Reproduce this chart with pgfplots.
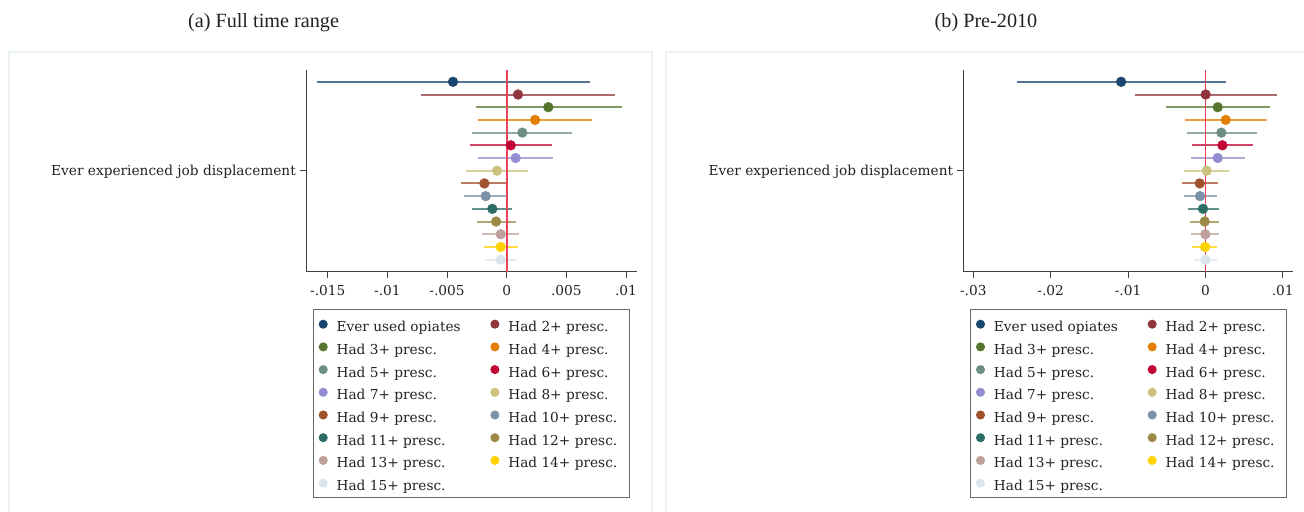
\documentclass[border=0pt]{standalone}
\usepackage{pgfplots}
\pgfplotsset{compat=1.18}
\usepackage{fontspec}
\setmainfont{DejaVu Serif}
\newfontfamily\titlefont{Liberation Serif}
\newcommand\chartfont{\fontsize{13.7bp}{16bp}\selectfont}

% Stata s2color palette
\definecolor{c1}{HTML}{1A476F}
\definecolor{c2}{HTML}{90353B}
\definecolor{c3}{HTML}{55752F}
\definecolor{c4}{HTML}{E37E00}
\definecolor{c5}{HTML}{6E8E84}
\definecolor{c6}{HTML}{C10534}
\definecolor{c7}{HTML}{938DD2}
\definecolor{c8}{HTML}{CAC27E}
\definecolor{c9}{HTML}{A0522D}
\definecolor{c10}{HTML}{7B92A8}
\definecolor{c11}{HTML}{2D6D66}
\definecolor{c12}{HTML}{9C8847}
\definecolor{c13}{HTML}{BFA19C}
\definecolor{c14}{HTML}{FFD200}
\definecolor{c15}{HTML}{D9E6EB}
\definecolor{zeroline}{HTML}{E8425A}
\definecolor{panelframe}{HTML}{EAF2F3}
\definecolor{txt}{HTML}{222222}

% confidence interval: colour, row, lower, upper
\newcommand{\ci}[4]{\addplot[forget plot, draw=#1, draw opacity=0.75, line width=2bp] coordinates {(#3,#2) (#4,#2)};}
% point estimate: colour, row, estimate, legend text
\newcommand{\est}[4]{\addplot[only marks, mark=*, mark size=4.9bp, color=#1] coordinates {(#3,#2)};
  \addlegendentry{\makebox[113bp][l]{#4}}}

\pgfplotsset{
  coefaxis/.style={
    anchor=south west, scale only axis,
    height=201.7bp,
    ymin=0.05, ymax=15.93,
    axis x line*=bottom, axis y line*=left,
    axis line style={black!75, line width=1bp},
    tick align=outside, major tick length=6bp,
    tick style={black!75, line width=1bp},
    minor tick num=0,
    scaled x ticks=false,
    ytick={8}, yticklabels={Ever experienced job displacement},
    tick label style={font=\chartfont, text=txt},
    yticklabel style={inner sep=4bp, yshift=-1.5bp},
    xticklabel style={inner sep=3bp, yshift=-4bp},
    clip=false,
    legend columns=2,
    legend cell align=left,
    legend image code/.code={\draw[##1, mark size=4bp] plot coordinates {(4bp,0bp)};},
    legend style={
      at={(0.0203,-0.1864)}, anchor=north west,
      draw=black!60, line width=1bp,
      font=\chartfont, text=txt,
      inner xsep=6bp, inner ysep=3.9bp,
      column sep=7.4bp,
      /tikz/every even column/.append style={column sep=39.3bp},
      row sep=1.7bp,
      nodes={inner xsep=2bp, inner ysep=0bp, text height=18bp, text depth=3bp},
    },
  },
}

\begin{document}
\begin{tikzpicture}
\path[use as bounding box] (0,0) rectangle (1304bp,512bp);
\clip (0,0) rectangle (1304bp,512bp);

% panel frames
\draw[panelframe, line width=2bp] (9bp,-20bp) rectangle (652bp,460bp);
\draw[panelframe, line width=2bp] (666bp,-20bp) rectangle (1320bp,460bp);

% panel titles
\node[anchor=base, text=txt, font=\titlefont\fontsize{20.2bp}{24bp}\selectfont] at (263.5bp,484.7bp) {(a) Full time range};
\node[anchor=base, text=txt, font=\titlefont\fontsize{20.2bp}{24bp}\selectfont] at (986bp,484.7bp) {(b) Pre-2010};

% (a) Full time range
\begin{axis}[coefaxis,
  at={(306bp,240.3bp)}, width=330.7bp,
  xmin=-0.016823, xmax=0.010897,
  xtick={-0.015,-0.01,-0.005,0,0.005,0.01},
  xticklabels={-.015,-.01,-.005,0,.005,.01},
]
\ci{c1}{15}{-0.01593}{0.00699}
\ci{c2}{14}{-0.00718}{0.00908}
\ci{c3}{13}{-0.0026}{0.00967}
\ci{c4}{12}{-0.00238}{0.00718}
\ci{c5}{11}{-0.00288}{0.0055}
\ci{c6}{10}{-0.00307}{0.00377}
\ci{c7}{9}{-0.00238}{0.00386}
\ci{c8}{8}{-0.00341}{0.00176}
\ci{c9}{7}{-0.0038}{0.00005}
\ci{c10}{6}{-0.0036}{0.00005}
\ci{c11}{5}{-0.00288}{0.00047}
\ci{c12}{4}{-0.00251}{0.00075}
\ci{c13}{3}{-0.00207}{0.00106}
\ci{c14}{2}{-0.0019}{0.00092}
\ci{c15}{1}{-0.00182}{0.00081}
\addplot[forget plot, zeroline, line width=1.6bp] coordinates {(0,0.05) (0,15.93)};
\est{c1}{15}{-0.0045}{Ever used opiates}
\est{c2}{14}{0.00095}{Had 2+ presc.}
\est{c3}{13}{0.00349}{Had 3+ presc.}
\est{c4}{12}{0.00238}{Had 4+ presc.}
\est{c5}{11}{0.00131}{Had 5+ presc.}
\est{c6}{10}{0.00034}{Had 6+ presc.}
\est{c7}{9}{0.00075}{Had 7+ presc.}
\est{c8}{8}{-0.00081}{Had 8+ presc.}
\est{c9}{7}{-0.00187}{Had 9+ presc.}
\est{c10}{6}{-0.00176}{Had 10+ presc.}
\est{c11}{5}{-0.0012}{Had 11+ presc.}
\est{c12}{4}{-0.00089}{Had 12+ presc.}
\est{c13}{3}{-0.0005}{Had 13+ presc.}
\est{c14}{2}{-0.0005}{Had 14+ presc.}
\est{c15}{1}{-0.0005}{Had 15+ presc.}
\end{axis}

% (b) Pre-2010
\begin{axis}[coefaxis,
  at={(963.3bp,240.3bp)}, width=329.7bp,
  xmin=-0.03129, xmax=0.01133,
  xtick={-0.03,-0.02,-0.01,0,0.01},
  xticklabels={-.03,-.02,-.01,0,.01},
]
\ci{c1}{15}{-0.0244}{0.00272}
\ci{c2}{14}{-0.00911}{0.0092}
\ci{c3}{13}{-0.0051}{0.0083}
\ci{c4}{12}{-0.00268}{0.008}
\ci{c5}{11}{-0.00242}{0.00661}
\ci{c6}{10}{-0.00177}{0.00622}
\ci{c7}{9}{-0.00186}{0.00514}
\ci{c8}{8}{-0.00276}{0.00311}
\ci{c9}{7}{-0.00298}{0.0016}
\ci{c10}{6}{-0.00281}{0.00147}
\ci{c11}{5}{-0.00229}{0.00173}
\ci{c12}{4}{-0.00203}{0.00181}
\ci{c13}{3}{-0.00181}{0.00177}
\ci{c14}{2}{-0.00168}{0.00156}
\ci{c15}{1}{-0.00151}{0.00151}
\addplot[forget plot, zeroline, line width=1.6bp] coordinates {(0,0.05) (0,15.93)};
\est{c1}{15}{-0.01089}{Ever used opiates}
\est{c2}{14}{0.00004}{Had 2+ presc.}
\est{c3}{13}{0.0016}{Had 3+ presc.}
\est{c4}{12}{0.00264}{Had 4+ presc.}
\est{c5}{11}{0.00207}{Had 5+ presc.}
\est{c6}{10}{0.0022}{Had 6+ presc.}
\est{c7}{9}{0.0016}{Had 7+ presc.}
\est{c8}{8}{0.00017}{Had 8+ presc.}
\est{c9}{7}{-0.00073}{Had 9+ presc.}
\est{c10}{6}{-0.00069}{Had 10+ presc.}
\est{c11}{5}{-0.0003}{Had 11+ presc.}
\est{c12}{4}{-0.00009}{Had 12+ presc.}
\est{c13}{3}{0}{Had 13+ presc.}
\est{c14}{2}{-0.00004}{Had 14+ presc.}
\est{c15}{1}{0}{Had 15+ presc.}
\end{axis}
\end{tikzpicture}
\end{document}
